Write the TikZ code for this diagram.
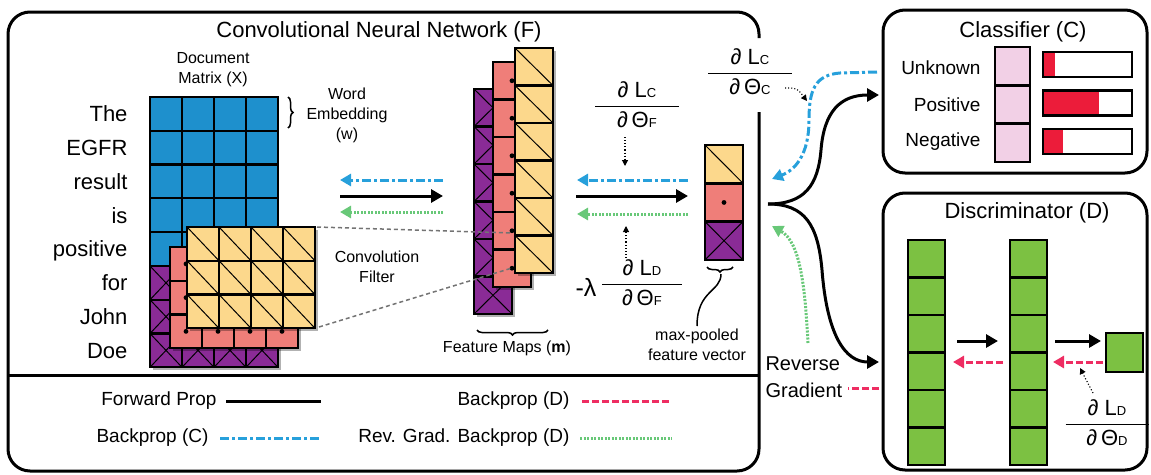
\documentclass[tikz,border=0pt]{standalone}
\usepackage{amsmath}
\usepackage{fontspec}
\setmainfont{Liberation Sans}
\usetikzlibrary{arrows.meta,positioning,calc,decorations.pathreplacing,shadows}

\definecolor{docblue}{RGB}{30,144,205}
\definecolor{mapyellow}{RGB}{252,216,140}
\definecolor{mappink}{RGB}{239,126,121}
\definecolor{mappurple}{RGB}{138,43,150}
\definecolor{discgreen}{RGB}{124,193,66}
\definecolor{outlilac}{RGB}{242,208,230}
\definecolor{barred}{RGB}{236,28,58}
\definecolor{bpblue}{RGB}{39,160,219}
\definecolor{bpgreen}{RGB}{104,200,120}
\definecolor{bpred}{RGB}{238,45,98}

\newcommand{\capsub}[1]{{\fontsize{13}{13}\selectfont #1}}
\newcommand{\gradfrac}[3]{$\genfrac{}{}{1.5pt}{0}{\makebox[#3]{∂ #1}}{\makebox[#3]{∂\,#2}}$}

\begin{document}
\begin{tikzpicture}[x=1pt,y=-1pt,
  gridcell/.style={draw=black,line width=2.4pt},
  diagline/.style={black,line width=1pt},
  shade box/.style={drop shadow={shadow xshift=3pt,shadow yshift=-3pt,opacity=0.3,fill=black}},
  panel/.style={draw=black,line width=3pt,rounded corners=22pt},
  bigtext/.style={font=\fontsize{22}{26}\selectfont},
  midtext/.style={font=\fontsize{19}{22}\selectfont},
  smalltext/.style={font=\fontsize{16}{20}\selectfont,align=center},
  fwdprop/.style={line width=3pt,-{Triangle[length=12pt,width=13pt]}},
  bpc/.style={bpblue,line width=3pt,dash pattern=on 9pt off 3pt on 3pt off 3pt,-{Triangle[length=11pt,width=12pt]}},
  bpd/.style={bpred,line width=3pt,dash pattern=on 7pt off 3pt,-{Triangle[length=11pt,width=12pt]}},
  rgd/.style={bpgreen,line width=3pt,dash pattern=on 2pt off 1.5pt,-{Triangle[length=11pt,width=12pt]}},
  gradptr/.style={line width=1.1pt,dotted,-{Triangle[length=6pt,width=6pt]}},
  convline/.style={black!55,line width=1.5pt,dash pattern=on 4pt off 3pt},
  bracket/.style={line width=1.5pt,decorate,decoration={brace,amplitude=5pt}}]

\useasboundingbox (0,0) rectangle (1151,474);

% panels
\draw[panel] (759,112) -- (759,471) -- (8,471) -- (8,12) -- (759,12) -- (759,38);
\draw[line width=3pt] (8,375) -- (759,375);
\draw[panel] (883,10) rectangle (1147,173);
\draw[panel] (883,193) rectangle (1147,470);

\node[bigtext] (cnntitle) at (379,32) {Convolutional Neural Network (F)};
\node[bigtext] (clstitle) at (1023,32) {Classifier (C)};
\node[bigtext] (disctitle) at (1027,213) {Discriminator (D)};

% sentence, one word per row
\foreach \w [count=\k from 0] in {The,EGFR,result,is,positive,for,John,Doe}
  \node[bigtext,anchor=base east] (word\k) at (131,{121.9+33.75*\k}) {\w};

% document matrix (X)
\def\dW{32}
\def\dH{33.75}
\foreach \c in {0,...,3}
  \foreach \r in {0,...,7}
    \draw[gridcell,fill=docblue] ({150+\dW*\c},{97+\dH*\r}) rectangle ++(\dW,\dH);

\node[smalltext] (docmat) at (213,70) {Document\\Matrix (X)};
\draw[bracket] (288,97) -- (288,128);
\node[smalltext] (wordemb) at (347,115) {Word\\Embedding\\(w)};

% convolution filter, three layers
\begin{scope}[shift={(150,266)}]
  \draw[gridcell,fill=mappurple,shade box] (0,0) rectangle (4*\dW,3*\dH);
  \foreach \c in {0,...,3}
    \foreach \r in {0,1,2} {
      \draw[diagline] ({\dW*\c},{\dH*\r}) -- ++(\dW,\dH);
      \draw[diagline] ({\dW*(\c+1)},{\dH*\r}) -- ++(-\dW,\dH);
      \draw[gridcell] ({\dW*\c},{\dH*\r}) rectangle ++(\dW,\dH);
    }
\end{scope}
\begin{scope}[shift={(170,247)}]
  \draw[gridcell,fill=mappink,shade box] (0,0) rectangle (4*\dW,3*\dH);
  \foreach \c in {0,...,3}
    \foreach \r in {0,1,2} {
      \fill ({\dW*(\c+0.5)},{\dH*(\r+0.5)}) circle (2.4pt);
      \draw[gridcell] ({\dW*\c},{\dH*\r}) rectangle ++(\dW,\dH);
    }
\end{scope}
\begin{scope}[shift={(187,227)}]
  \draw[gridcell,fill=mapyellow,shade box] (0,0) rectangle (4*\dW,3*\dH);
  \foreach \c in {0,...,3}
    \foreach \r in {0,1,2} {
      \draw[diagline] ({\dW*\c},{\dH*\r}) -- ++(\dW,\dH);
      \draw[gridcell] ({\dW*\c},{\dH*\r}) rectangle ++(\dW,\dH);
    }
\end{scope}
\coordinate (filtTop) at (317,227);
\coordinate (filtBot) at (319,327);
\node[smalltext] (convfilt) at (377,267) {Convolution\\Filter};

% arrows between X and m
\coordinate (xmL1) at (340,180); \coordinate (xmR1) at (443,180);
\coordinate (xmL2) at (340,196); \coordinate (xmR2) at (443,196);
\coordinate (xmL3) at (340,212); \coordinate (xmR3) at (443,212);
\draw[bpc] (xmR1) -- (xmL1);
\draw[fwdprop] (xmL2) -- (xmR2);
\draw[rgd] (xmR3) -- (xmL3);

% feature maps (m)
\def\fW{38}
\def\fH{37.5}
\begin{scope}[shift={(474,89)}]
  \draw[gridcell,fill=mappurple,shade box] (0,0) rectangle (\fW,6*\fH);
  \foreach \r in {0,...,5} {
    \draw[diagline] (0,{\fH*\r}) -- ++(\fW,\fH);
    \draw[diagline] (\fW,{\fH*\r}) -- ++(-\fW,\fH);
    \draw[gridcell] (0,{\fH*\r}) rectangle ++(\fW,\fH);
  }
\end{scope}
\begin{scope}[shift={(493,62)}]
  \draw[gridcell,fill=mappink,shade box] (0,0) rectangle (\fW,6*\fH);
  \foreach \r in {0,...,5} {
    \fill ({\fW/2},{\fH*(\r+0.5)}) circle (2.4pt);
    \draw[gridcell] (0,{\fH*\r}) rectangle ++(\fW,\fH);
  }
\end{scope}
\coordinate (mapTop) at (512,233);
\coordinate (mapBot) at (512,268);
\draw[convline] (filtTop) -- (mapTop);
\draw[convline] (filtBot) -- (mapBot);
\begin{scope}[shift={(515,48)}]
  \draw[gridcell,fill=mapyellow,shade box] (0,0) rectangle (\fW,6*\fH);
  \foreach \r in {0,...,5} {
    \draw[diagline] (0,{\fH*\r}) -- ++(\fW,\fH);
    \draw[gridcell] (0,{\fH*\r}) rectangle ++(\fW,\fH);
  }
\end{scope}
\draw[bracket] (548,330) -- (477,330);
\node[smalltext] (featmaps) at (507,348) {Feature Maps (\textbf{m})};

% gradients into F
\node[bigtext,inner sep=0pt] (fracCF) at (637,105) {\gradfrac{L\capsub{C}}{Θ\capsub{F}}{84pt}};
\node[bigtext,inner sep=0pt] (fracDF) at (642,283) {\gradfrac{L\capsub{D}}{Θ\capsub{F}}{80pt}};
\node[font=\fontsize{25}{26}\selectfont] (lambda) at (586,287) {-λ};
\coordinate (cfA) at (625,137); \coordinate (cfB) at (625,166);
\coordinate (dfA) at (626,258); \coordinate (dfB) at (626,226);
\draw[gradptr] (cfA) -- (cfB);
\draw[gradptr] (dfA) -- (dfB);

% arrows between m and pooled vector
\coordinate (mvL1) at (577,180); \coordinate (mvR1) at (688,180);
\coordinate (mvL2) at (576,196); \coordinate (mvR2) at (688,196);
\coordinate (mvL3) at (577,214); \coordinate (mvR3) at (688,214);
\draw[bpc] (mvR1) -- (mvL1);
\draw[fwdprop] (mvL2) -- (mvR2);
\draw[rgd] (mvR3) -- (mvL3);

% max-pooled feature vector
\def\vH{38.3}
\begin{scope}[shift={(705,145)}]
  \draw[gridcell,fill=mapyellow] (0,0) rectangle (\fW,\vH);
  \draw[gridcell,fill=mappink] (0,\vH) rectangle (\fW,2*\vH);
  \draw[gridcell,fill=mappurple] (0,2*\vH) rectangle (\fW,3*\vH);
  \draw[diagline] (0,0) -- (\fW,\vH);
  \fill ({\fW/2},{1.5*\vH}) circle (2.4pt);
  \draw[diagline] (0,2*\vH) -- (\fW,3*\vH) (\fW,2*\vH) -- (0,3*\vH);
  \foreach \r in {0,1,2}
    \draw[gridcell] (0,{\vH*\r}) rectangle ++(\fW,\vH);
\end{scope}
\draw[bracket] (733,267) -- (707,267);
\draw[line width=1.5pt] (721,274) .. controls (721,292) and (697,290) .. (697,326);
\node[smalltext] (pooled) at (697,345) {max-pooled\\feature vector};

% gradient from C
\node[bigtext,inner sep=0pt] (fracCC) at (750,72) {\gradfrac{L\capsub{C}}{Θ\capsub{C}}{84pt}};
\coordinate (ccA) at (785,88); \coordinate (ccB) at (807,101);
\draw[gradptr] (ccA) .. controls (797,88) .. (ccB);

% forward split to C and D
\coordinate (split) at (768,204);
\coordinate (clsIn) at (879,95);
\coordinate (discIn) at (879,362);
\draw[fwdprop] (split) .. controls (805,204) and (818,185) .. (821,150)
  .. controls (824,112) and (840,95) .. (clsIn);
\draw[fwdprop] (split) .. controls (805,204) and (818,225) .. (822,270)
  .. controls (827,335) and (845,362) .. (discIn);

% backprop from C
\coordinate (clsOut) at (877,72);
\coordinate (vecC) at (772,179);
\draw[bpc] (clsOut) -- (840,73) .. controls (815,75) and (809,90) .. (809,120)
  .. controls (809,155) and (795,170) .. (vecC);

% reverse gradient into F
\coordinate (rgA) at (808,343);
\coordinate (vecD) at (772,226);
\draw[rgd] (rgA) .. controls (805,285) and (800,242) .. (vecD);
\node[font=\fontsize{20}{27}\selectfont,align=left,anchor=west] (revgrad) at (762,377) {Reverse\\Gradient};
\coordinate (discOut) at (879,388);
\coordinate (rgEnd) at (848,388);
\draw[bpred,line width=3pt,dash pattern=on 7pt off 3pt] (discOut) -- (rgEnd);

% classifier (C)
\foreach \lab/\y in {Unknown/68,Positive/105,Negative/142}
  \node[midtext,anchor=east] (lab\lab) at (984,\y) {\lab};
\foreach \r in {0,1,2}
  \draw[gridcell,fill=outlilac] (995,{47+38.3*\r}) rectangle ++(35,38.3);
\foreach \r/\p in {0/1055,1/1099,2/1063} {
  \fill[barred] (1043,{52+38.5*\r}) rectangle (\p,{77+38.5*\r});
  \draw[line width=2.4pt] (1043,{52+38.5*\r}) rectangle (1132,{77+38.5*\r});
}

% discriminator (D)
\foreach \x in {908,1010}
  \foreach \r in {0,...,5}
    \draw[gridcell,fill=discgreen] (\x,{240+37.5*\r}) rectangle ++(37,37.5);
\draw[gridcell,fill=discgreen] (1106,333) rectangle (1143,372);
\coordinate (d1) at (957,341); \coordinate (d2) at (998,341);
\coordinate (d3) at (1055,341); \coordinate (d4) at (1101,341);
\coordinate (d5) at (1003,362); \coordinate (d6) at (953,362);
\coordinate (d7) at (1103,362); \coordinate (d8) at (1053,362);
\draw[fwdprop] (d1) -- (d2);
\draw[fwdprop] (d3) -- (d4);
\draw[bpd] (d5) -- (d6);
\draw[bpd] (d7) -- (d8);
\node[bigtext,inner sep=0pt] (fracDD) at (1107,423) {\gradfrac{L\capsub{D}}{Θ\capsub{D}}{83pt}};
\coordinate (ddA) at (1093,393); \coordinate (ddB) at (1080,368);
\draw[gradptr] (ddA) -- (ddB);

% legend
\node[midtext,anchor=east] (lgfwd) at (220,401) {Forward Prop};
\node[midtext,anchor=east] (lgbpc) at (212,438) {Backprop (C)};
\node[midtext,anchor=east] (lgbpd) at (573,401) {Backprop (D)};
\node[midtext,anchor=east] (lgrgd) at (573,438) {Rev. Grad. Backprop (D)};
\draw[line width=3pt] (lgfwd.east) ++(6,0) -- ++(95,0);
\draw[bpc,-] (lgbpc.east) ++(8,0) -- ++(100,0);
\draw[bpd,-] (lgbpd.east) ++(9,0) -- ++(90,0);
\draw[rgd,-] (lgrgd.east) ++(7,0) -- ++(92,0);
\end{tikzpicture}
\end{document}
